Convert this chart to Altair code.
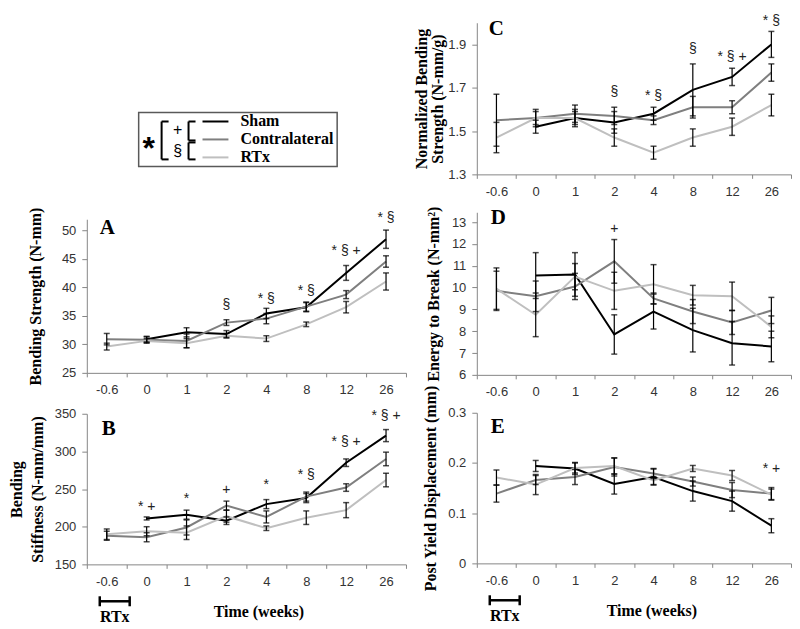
import altair as alt
import pandas as pd

WEEKS = ["-0.6", "0", "1", "2", "4", "8", "12", "26"]
SERIES = ["Sham", "Contralateral", "RTx"]
COLORS = ["#000000", "#7f7f7f", "#bfbfbf"]

# Panel A - Bending Strength (N-mm)
A_SHAM = [None, 30.9, 32.1, 31.8, 35.4, 36.5, 42.5, 48.4]
A_SHAM_SE = [None, 0.5, 0.8, 0.6, 0.9, 0.8, 1.3, 1.6]
A_CONTRA = [30.9, 30.8, 30.6, 33.8, 34.5, 36.6, 38.7, 44.5]
A_CONTRA_SE = [1.0, 0.5, 1.2, 0.5, 0.9, 0.8, 0.7, 1.0]
A_RTX = [29.6, 30.6, 30.2, 31.5, 31.0, 33.5, 36.5, 41.0]
A_RTX_SE = [0.6, 0.4, 0.8, 0.4, 0.5, 0.4, 1.0, 1.5]
A_SIG_WEEKS = ["2", "4", "8", "12", "26"]
A_SIG_VALS = [36.9, 38.0, 39.4, 46.4, 52.1]
A_SIG_LABELS = ["§", "* §", "* §", "* § +", "* §"]

# Panel B - Bending Stiffness (N-mm/mm)
B_SHAM = [None, 211, 216, 208, 230, 238, 285, 321]
B_SHAM_SE = [None, 2, 6, 5, 6, 6, 5, 8]
B_CONTRA = [188, 186, 199, 228, 213, 240, 252, 290]
B_CONTRA_SE = [6, 6, 10, 6, 8, 6, 5, 9]
B_RTX = [190, 194, 192, 214, 198, 212, 222, 262]
B_RTX_SE = [7, 6, 9, 8, 3, 9, 10, 9]
B_SIG_WEEKS = ["0", "1", "2", "4", "8", "12", "26"]
B_SIG_VALS = [226, 237, 249, 255, 268, 313, 347]
B_SIG_LABELS = ["* +", "*", "+", "*", "* §", "* § +", "* § +"]

# Panel C - Normalized Bending Strength (N-mm/g)
C_SHAM = [None, 1.52, 1.56, 1.54, 1.58, 1.69, 1.75, 1.90]
C_SHAM_SE = [None, 0.03, 0.03, 0.05, 0.03, 0.12, 0.04, 0.06]
C_CONTRA = [1.55, 1.56, 1.58, 1.57, 1.55, 1.61, 1.61, 1.77]
C_CONTRA_SE = [0.12, 0.04, 0.04, 0.04, 0.02, 0.05, 0.03, 0.04]
C_RTX = [1.47, 1.56, 1.56, 1.47, 1.40, 1.47, 1.52, 1.62]
C_RTX_SE = [0.07, 0.03, 0.04, 0.04, 0.03, 0.04, 0.04, 0.05]
C_SIG_WEEKS = ["2", "4", "8", "12", "26"]
C_SIG_VALS = [1.68, 1.66, 1.88, 1.84, 2.01]
C_SIG_LABELS = ["§", "* §", "§", "* § +", "* §"]

# Panel D - Energy to Break (N-mm^2)
D_SHAM = [None, 10.55, 10.6, 7.85, 8.9, 8.05, 7.45, 7.3]
D_SHAM_SE = [None, 1.05, 1.0, 0.9, 0.8, 1.0, 1.0, 0.7]
D_CONTRA = [9.85, 9.6, 10.05, 11.2, 9.5, 8.9, 8.4, 8.95]
D_CONTRA_SE = [0.9, 0.7, 0.6, 1.0, 0.25, 0.55, 0.55, 0.6]
D_RTX = [9.95, 8.75, 10.5, 9.85, 10.15, 9.65, 9.6, 8.2]
D_RTX_SE = [0.95, 1.0, 0.6, 0.85, 0.9, 0.45, 0.65, 0.5]
D_SIG_WEEKS = ["2"]
D_SIG_VALS = [12.7]
D_SIG_LABELS = ["+"]

# Panel E - Post Yield Displacement (mm)
E_SHAM = [None, 0.194, 0.189, 0.158, 0.172, 0.144, 0.124, 0.075]
E_SHAM_SE = [None, 0.011, 0.012, 0.02, 0.016, 0.02, 0.02, 0.014]
E_CONTRA = [0.139, 0.166, 0.172, 0.192, 0.179, 0.163, 0.146, 0.139]
E_CONTRA_SE = [0.017, 0.009, 0.015, 0.018, 0.01, 0.009, 0.015, 0.012]
E_RTX = [0.171, 0.157, 0.190, 0.194, 0.165, 0.189, 0.175, 0.137]
E_RTX_SE = [0.015, 0.02, 0.01, 0.016, 0.008, 0.006, 0.01, 0.011]
E_SIG_WEEKS = ["26"]
E_SIG_VALS = [0.188]
E_SIG_LABELS = ["* +"]

SANS = "Liberation Sans"
SERIF = "Liberation Serif"
LABEL = "#333333"
AXIS = "#868686"

ONE = pd.DataFrame({"k": [0]})


def long_df(means, errs):
    rows = []
    for s, ml, el in zip(SERIES, means, errs):
        for i, (w, m, e) in enumerate(zip(WEEKS, ml, el)):
            if m is None:
                continue
            rows.append({"week": w, "idx": i, "series": s, "mean": m,
                         "lo": m - e, "hi": m + e})
    return pd.DataFrame(rows)


def seg(x1, y1, x2, y2, color="black", width=2.0):
    return alt.Chart(ONE).mark_rule(color=color, strokeWidth=width).encode(
        x=alt.value(x1), x2=alt.value(x2), y=alt.value(y1), y2=alt.value(y2))


def txt(s, x, y, font, size, weight="normal", align="left", baseline="middle", color="black"):
    return alt.Chart(ONE).mark_text(text=s, font=font, fontSize=size, fontWeight=weight,
                                    align=align, baseline=baseline, color=color).encode(
        x=alt.value(x), y=alt.value(y))


def panel(letter, means, errs, sig_w, sig_v, sig_l, domain, ticks, fmt, width, height,
          ytitle, ytitle_pad, ytitle_lh, letter_xy, xtitle=None, xtitle_x=None, rtx=False):
    df = long_df(means, errs)
    sig_df = pd.DataFrame({"week": sig_w, "val": sig_v, "label": sig_l})
    xk = dict(labelAngle=0, labelFont=SANS, labelFontSize=13, labelColor=LABEL,
              domainColor=AXIS, tickColor=AXIS, tickSize=4, labelPadding=7,
              tickBand="extent")
    if xtitle:
        xk.update(title=xtitle, titleFont=SERIF, titleFontSize=16, titleFontWeight="bold",
                  titleColor="black", titlePadding=15, titleX=xtitle_x)
    else:
        xk.update(title=None)
    xaxis = alt.Axis(**xk)
    xscale = alt.Scale(type="band", domain=WEEKS, paddingInner=0, paddingOuter=0)

    def X():
        return alt.X("week:N", sort=WEEKS, scale=xscale, axis=xaxis, bandPosition=0.5)

    yaxis = alt.Axis(values=ticks, labelExpr=fmt, title=ytitle, titleFont=SERIF,
                     titleFontSize=16, titleFontWeight="bold", titleColor="black",
                     titlePadding=ytitle_pad, titleLineHeight=ytitle_lh,
                     labelFont=SANS, labelFontSize=13, labelColor=LABEL,
                     domainColor=AXIS, tickColor=AXIS, tickSize=5, labelPadding=6,
                     grid=False)
    yscale = alt.Scale(domain=domain, nice=False, zero=False)

    def Y(f):
        return alt.Y(f + ":Q", scale=yscale, axis=yaxis)

    base = alt.Chart(df)
    lines = base.mark_line(strokeWidth=2).encode(
        x=X(), y=Y("mean"),
        color=alt.Color("series:N", scale=alt.Scale(domain=SERIES, range=COLORS), legend=None),
        order="idx:Q")
    bars = base.mark_rule(color="black", strokeWidth=1.2).encode(x=X(), y=Y("lo"), y2="hi:Q")
    cap_lo = base.mark_tick(color="black", size=6, thickness=1.5).encode(x=X(), y=Y("lo"))
    cap_hi = base.mark_tick(color="black", size=6, thickness=1.5).encode(x=X(), y=Y("hi"))
    sig_t = alt.Chart(sig_df).mark_text(font=SANS, fontSize=14, color="#222222",
                                        baseline="middle").encode(
        x=X(), y=Y("val"), text="label:N")
    letter_t = txt(letter, letter_xy[0], letter_xy[1], SERIF, 21, "bold",
                   baseline="alphabetic")
    layers = [lines, bars, cap_lo, cap_hi, sig_t, letter_t]
    if rtx:
        layers += [
            seg(13, 188, 43, 188, width=2.5),
            seg(13, 183, 13, 193, width=2.5),
            seg(43, 183, 43, 193, width=2.5),
            txt("RTx", 28, 209, SERIF, 16, "bold", align="center", baseline="alphabetic"),
        ]
    return alt.layer(*layers).properties(width=width, height=height)


def legend_cell():
    layers = [alt.Chart(ONE).mark_rect(fill="white", stroke="#595959", strokeWidth=1.5).encode(
        x=alt.value(52), x2=alt.value(251), y=alt.value(90), y2=alt.value(144))]
    layers += [seg(75, 99, 75, 137), seg(75, 99, 82, 99), seg(75, 137, 82, 137)]
    layers += [seg(102, 99, 102, 118), seg(102, 99, 109, 99), seg(102, 118, 109, 118)]
    layers += [seg(102, 120, 102, 137), seg(102, 120, 109, 120), seg(102, 137, 109, 137)]
    layers += [txt("*", 62, 137, SANS, 32, "bold", align="center", baseline="alphabetic"),
               txt("+", 91, 108, SANS, 16, align="center"),
               txt("§", 91, 129, SANS, 16, align="center")]
    for i, (s, c) in enumerate(zip(SERIES, COLORS)):
        y = 99 + 18 * i
        layers.append(seg(116, y, 142, y, color=c, width=2))
        layers.append(txt(s, 154, y, SERIF, 16, "bold"))
    return alt.layer(*layers).properties(width=320, height=156)


INT = "format(datum.value, 'd')"
ONE_DEC = "format(datum.value, '.1f')"
E_FMT = "datum.value == 0 ? '0' : format(datum.value, '.1f')"

pA = panel("A", [A_SHAM, A_CONTRA, A_RTX], [A_SHAM_SE, A_CONTRA_SE, A_RTX_SE],
           A_SIG_WEEKS, A_SIG_VALS, A_SIG_LABELS, [25, 51.9], [25, 30, 35, 40, 45, 50], INT,
           320, 154, "Bending Strength (N-mm)", 18, 16, (13, 15))
pB = panel("B", [B_SHAM, B_CONTRA, B_RTX], [B_SHAM_SE, B_CONTRA_SE, B_RTX_SE],
           B_SIG_WEEKS, B_SIG_VALS, B_SIG_LABELS, [150, 350], [150, 200, 250, 300, 350], INT,
           320, 151, ["Bending", "Stiffness (N-mm/mm)"], 9, 21, (15, 21),
           xtitle="Time (weeks)", xtitle_x=172, rtx=True)
pC = panel("C", [C_SHAM, C_CONTRA, C_RTX], [C_SHAM_SE, C_CONTRA_SE, C_RTX_SE],
           C_SIG_WEEKS, C_SIG_VALS, C_SIG_LABELS, [1.3, 2.0], [1.3, 1.5, 1.7, 1.9], ONE_DEC,
           315, 152, ["Normalized Bending", "Strength (N-mm/g)"], 2, 16, (12, 12))
pD = panel("D", [D_SHAM, D_CONTRA, D_RTX], [D_SHAM_SE, D_CONTRA_SE, D_RTX_SE],
           D_SIG_WEEKS, D_SIG_VALS, D_SIG_LABELS, [6, 13.45], [6, 7, 8, 9, 10, 11, 12, 13], INT,
           315, 163, "Energy to Break (N-mm²)", 10, 16, (14, 12))
pE = panel("E", [E_SHAM, E_CONTRA, E_RTX], [E_SHAM_SE, E_CONTRA_SE, E_RTX_SE],
           E_SIG_WEEKS, E_SIG_VALS, E_SIG_LABELS, [0, 0.3], [0, 0.1, 0.2, 0.3], E_FMT,
           315, 151, "Post Yield Displacement (mm)", 9, 16, (14, 20),
           xtitle="Time (weeks)", xtitle_x=175, rtx=True)

left = alt.vconcat(legend_cell(), pA, pB, spacing=41, bounds="flush")
right = alt.vconcat(pC, pD, pE, spacing=38, bounds="flush")
chart = alt.hconcat(left, right, spacing=6).properties(
    padding={"left": 0, "top": 4, "right": 0, "bottom": 0},
    background="white",
).configure_view(stroke=None)

chart.save("out.html", embed_options={"renderer": "svg", "actions": False})
